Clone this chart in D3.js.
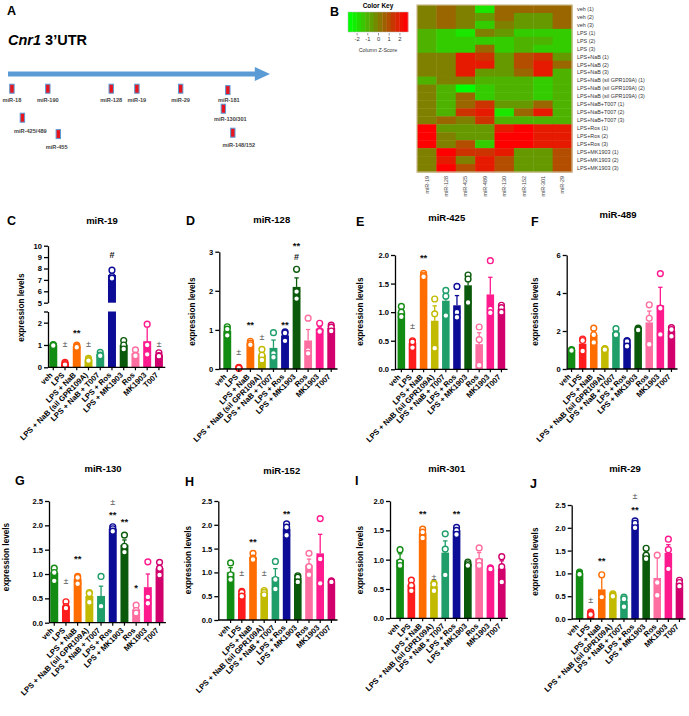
<!DOCTYPE html>
<html><head><meta charset="utf-8">
<script src="https://cdn.jsdelivr.net/npm/d3@7"></script>
<style>
body{margin:0;background:#fff;}
svg{display:block;font-family:"Liberation Sans",Arial,sans-serif;}
</style></head><body>
<svg id="fig" width="689" height="716"></svg>
<script>
// ---------------- DATA ----------------
const groups = ["veh","LPS","LPS + NaB","LPS + NaB (sil GPR109A)","LPS + NaB + T007","LPS + Ros","LPS + MK1903","Ros","MK1903","T007"];
const groupColors = ["#138c13","#ff1c1c","#ff6c00","#c2ba00","#1f9e6a","#0c0c96","#0b5a0b","#ff6ea0","#ff1a8e","#d1006c"];

// Panel A: miRNA binding sites along Cnr1 3'UTR (relative position 0-100, tier)
const utrSites = ["miR-18","miR-190","miR-128","miR-19","miR-29","miR-181","miR-130/301","miR-148/152","miR-425/489","miR-455"];
const utrSitePos = [1.5,15.2,39.4,49.2,65.9,83.9,82.2,85.8,5.5,19.2];
const utrSiteTier = [0,0,0,0,0,0.07,1.0,2.2,1.45,2.27];

// Panel B: heatmap (column Z-scores)
const hmCols = ["miR-19","miR-128","miR-425","miR-489","miR-130","miR-152","miR-301","miR-29"];
const hmRows = ["veh (1)","veh (2)","veh (3)","LPS (1)","LPS (2)","LPS (3)","LPS+NaB (1)","LPS+NaB (2)","LPS+NaB (3)",
 "LPS+NaB (sil GPR109A) (1)","LPS+NaB (sil GPR109A) (2)","LPS+NaB (sil GPR109A) (3)",
 "LPS+NaB+T007 (1)","LPS+NaB+T007 (2)","LPS+NaB+T007 (3)","LPS+Ros (1)","LPS+Ros (2)","LPS+Ros (3)",
 "LPS+MK1903 (1)","LPS+MK1903 (2)","LPS+MK1903 (3)"];
const hmZ = [
 [0,0.5,0,-2,0.5,0.5,0.5,0.5],
 [0,0.5,0,-0.5,0.5,-0.5,-0.5,0.5],
 [0,0.5,0,-1.5,0,-0.5,-0.5,0.5],
 [-1,-1.5,-2,0,-0.5,-1.5,-1.5,-1.5],
 [-1,-1.5,-1.5,-1.5,-1.5,-1,-1,-1.5],
 [-1,-1.5,-1.5,0.5,-1.5,-1,-1.5,-1.5],
 [0,0,2,1.5,-0.5,1,1.5,-0.5],
 [0,0,2,2,-0.5,1,2,0.5],
 [0,0,2,-0.5,-0.5,0.5,2,-1],
 [-1,0,0,-1,-1,-1,-1.5,-1],
 [0,-1,-2.5,-1.5,-1,-1,-1.5,-1],
 [0,-1,0.5,-1.5,-1,-1,-1.5,-1],
 [0,-1,0.5,1.5,-0.5,-0.5,0.5,-1],
 [0,-1,1.5,2,-2,0.5,2,-1],
 [0,0.5,0,1.5,-1,-1,-1,-1],
 [3,-0.5,-0.5,-0.5,2,3,2,2],
 [3,0,-0.5,-0.5,2.5,2.5,2,2],
 [3,0,1,-1.5,2.5,2.5,2,2],
 [0,3,1.5,1.5,2,-0.5,-0.5,1],
 [0,2,0,2,1,-0.5,-0.5,1],
 [0,2.5,1,2,1,-0.5,-0.5,1]
];
const keyTicks = [-2,-1,0,1,2];

// Panel C: miR-19
const miR19Mean = [1.0,0.17,0.95,0.35,0.58,7.43,1.0,0.62,1.17,0.56];
const miR19Sem  = [0.01,0.03,0.03,0.03,0.05,0.2,0.09,0.06,0.7,0.05];
const miR19Pts  = [[1.02,1.0,0.98],[0.22,0.17,0.12],[1.0,0.95,0.9],[0.4,0.35,0.3],[0.67,0.55,0.52],[7.85,7.3,7.15],[1.2,1.0,0.82],[0.78,0.55,0.52],[1.93,1.0,0.58],[0.65,0.52,0.5]];
const miR19Sig  = [[1,"±",1.05],[2,"**",1.66],[3,"±",1.05],[5,"#",9.2],[9,"±",1.05]];
const miR19TicksLow = [0,1,2];
const miR19TicksHigh = [5,6,7,8,9,10];

// Panel D: miR-128
const miR128Mean = [0.98,0.03,0.66,0.36,0.54,0.86,2.1,0.73,1.03,1.05];
const miR128Sem  = [0.07,0.01,0.03,0.08,0.2,0.07,0.23,0.28,0.06,0.04];
const miR128Pts  = [[1.08,1.02,0.86],[0.04,0.03,0.02],[0.71,0.66,0.62],[0.5,0.35,0.23],[0.93,0.4,0.3],[0.95,0.92,0.72],[2.55,1.98,1.8],[1.3,0.47,0.4],[1.17,0.98,0.96],[1.12,1.07,0.97]];
const miR128Sig  = [[1,"±",0.43],[2,"**",1.21],[3,"±",0.83],[5,"**",1.21],[6,"#",2.87],[6,"**",3.21]];
const miR128Ticks = [0,1,2,3];

// Panel E: miR-425
const miR425Mean = [1.0,0.46,1.65,0.85,1.2,1.12,1.47,0.44,1.31,1.06];
const miR425Sem  = [0.05,0.04,0.02,0.26,0.13,0.17,0.15,0.2,0.3,0.04];
const miR425Pts  = [[1.1,1.0,0.92],[0.5,0.48,0.38],[1.68,1.65,1.62],[1.23,0.97,0.37],[1.38,1.28,0.94],[1.45,1.0,0.91],[1.65,1.58,1.17],[0.74,0.52,0.07],[1.9,1.05,0.99],[1.12,1.08,1.0]];
const miR425Sig  = [[1,"±",0.76],[2,"**",2.0]];
const miR425Ticks = [0,0.5,1,1.5,2];

// Panel F: miR-489
const miR489Mean = [1.0,1.33,1.8,1.05,1.92,1.4,2.1,2.45,3.35,2.0];
const miR489Sem  = [0.02,0.2,0.22,0.03,0.1,0.1,0.03,0.6,0.95,0.14];
const miR489Pts  = [[1.02,1.0,0.97],[1.58,1.5,0.95],[2.15,1.8,1.4],[1.08,1.05,1.02],[2.12,1.85,1.8],[1.5,1.45,1.2],[2.15,2.1,2.05],[3.38,2.67,1.3],[5.02,3.2,1.82],[2.18,2.08,1.72]];
const miR489Sig  = [];
const miR489Ticks = [0,2,4,6];

// Panel G: miR-130
const miR130Mean = [1.03,0.34,0.9,0.55,0.55,1.93,1.6,0.27,0.73,1.12];
const miR130Sem  = [0.08,0.04,0.05,0.06,0.2,0.03,0.1,0.05,0.27,0.08];
const miR130Pts  = [[1.12,1.03,0.86],[0.43,0.33,0.3],[0.95,0.93,0.8],[0.62,0.6,0.42],[0.95,0.36,0.34],[1.97,1.93,1.88],[1.8,1.57,1.45],[0.36,0.25,0.2],[1.25,0.53,0.4],[1.24,1.12,0.98]];
const miR130Sig  = [[1,"±",0.86],[2,"**",1.36],[5,"**",2.28],[5,"±",2.49],[6,"**",2.12],[7,"*",0.77]];

// Panel H: miR-152
const miR152Mean = [1.0,0.55,1.32,0.57,0.9,1.92,0.88,1.15,1.4,0.81];
const miR152Sem  = [0.1,0.03,0.04,0.03,0.18,0.08,0.04,0.13,0.4,0.01];
const miR152Pts  = [[1.2,0.95,0.85],[0.6,0.58,0.5],[1.4,1.3,1.27],[0.62,0.58,0.53],[1.23,0.85,0.65],[2.02,1.95,1.78],[0.93,0.9,0.8],[1.4,1.12,0.95],[2.13,1.28,0.77],[0.82,0.81,0.8]];
const miR152Sig  = [[1,"±",0.99],[2,"**",1.69],[3,"±",0.99],[5,"**",2.28]];

// Panel I: miR-301
const miR301Mean = [1.0,0.57,1.45,0.55,1.12,1.5,0.93,1.02,0.85,0.85];
const miR301Sem  = [0.1,0.06,0.05,0.04,0.2,0.03,0.03,0.1,0.01,0.13];
const miR301Pts  = [[1.17,0.96,0.9],[0.65,0.56,0.47],[1.52,1.47,1.37],[0.6,0.58,0.47],[1.44,1.18,0.74],[1.55,1.5,1.43],[0.96,0.93,0.9],[1.2,0.97,0.9],[0.86,0.85,0.84],[1.05,0.88,0.62]];
const miR301Sig  = [[2,"**",1.82],[3,"±",0.71],[5,"**",1.82]];

// Panel J: miR-29
const miR29Mean = [1.0,0.12,0.65,0.52,0.4,2.08,1.42,0.9,1.45,0.79];
const miR29Sem  = [0.02,0.02,0.3,0.02,0.07,0.04,0.08,0.5,0.18,0.04];
const miR29Pts  = [[1.03,1.0,0.98],[0.15,0.12,0.1],[0.97,0.5,0.48],[0.55,0.52,0.5],[0.48,0.44,0.27],[2.15,2.1,2.0],[1.55,1.4,1.32],[1.4,0.8,0.52],[1.75,1.52,1.1],[0.85,0.8,0.72]];
const miR29Sig  = [[1,"±",0.42],[2,"**",1.33],[5,"**",2.46],[5,"±",2.7]];
const ticks25 = [0,0.5,1,1.5,2,2.5];
const ticks20 = [0,0.5,1,1.5,2];

// ---------------- DRAWING ----------------
const svg = d3.select("#fig");

// ---- Panel A ----
const A = svg.append("g");
A.append("text").attr("x",7).attr("y",15).attr("font-size",12.5).attr("font-weight","bold").text("A");
const tA = A.append("text").attr("x",8).attr("y",45).attr("font-size",14.5).attr("font-weight","bold");
tA.append("tspan").attr("font-style","italic").text("Cnr1");
tA.append("tspan").text(" 3\u2019UTR");
const xA = d3.scaleLinear().domain([0,100]).range([8,270]);
const yA = d3.scaleLinear().domain([0,1]).range([88.7,108.7]);
A.append("line").attr("x1",xA(0)).attr("x2",xA(95)).attr("y1",74).attr("y2",74)
  .attr("stroke","#5b9bd5").attr("stroke-width",5);
A.append("path").attr("d",`M${xA(94.2)},67 L${xA(100)},74 L${xA(94.2)},81 Z`).attr("fill","#5b9bd5");
const siteLabDx = [0,0,0,0,0,1,7,6,8,-1.6];
const siteLabDy = [13,13,13,13,13,12,12,14,15,14.7];
utrSites.forEach((s,i)=>{
  const cx = xA(utrSitePos[i]), cy = yA(utrSiteTier[i]);
  A.append("rect").attr("x",cx-2.2).attr("y",cy-4.5).attr("width",4.4).attr("height",9)
    .attr("fill","#e8141e").attr("stroke","#5b9bd5").attr("stroke-width",1);
  A.append("text").attr("x",cx+siteLabDx[i]).attr("y",cy+siteLabDy[i]).attr("text-anchor","middle")
    .attr("font-size",5.6).attr("font-weight","bold").attr("fill","#444").text(s);
});

// ---- Panel B ----
const B = svg.append("g");
B.append("text").attr("x",330).attr("y",16).attr("font-size",12.5).attr("font-weight","bold").text("B");
const zColor = d3.scaleLinear().domain([-2.5,0,2.5]).range(["#00ff00","#808000","#ff0000"]).clamp(true);
const xK = d3.scaleLinear().domain([-2.8,2.8]).range([348,408]);
const keySteps = d3.range(-2.8,2.8,0.4);
B.selectAll("rect.key").data(keySteps).join("rect").attr("class","key")
  .attr("x",d=>xK(d)).attr("width",d=>xK(d+0.4)-xK(d)+0.3).attr("y",12).attr("height",20)
  .attr("fill",d=>zColor(d+0.2));
B.append("rect").attr("x",xK(-2.8)).attr("y",12).attr("width",xK(2.8)-xK(-2.8)).attr("height",20)
  .attr("fill","none").attr("stroke","#bbb").attr("stroke-width",0.5);
B.append("text").attr("x",xK(0)).attr("y",8).attr("text-anchor","middle").attr("font-size",6.5).attr("font-weight","bold").text("Color Key");
const keyAxis = B.append("g").attr("transform","translate(0,33)")
  .call(d3.axisBottom(xK).tickValues(keyTicks).tickFormat(d=>String(d)).tickSize(2.5).tickSizeOuter(0));
keyAxis.select(".domain").remove();
keyAxis.selectAll("text").attr("font-size",5.8).attr("fill","#333").attr("y",4);
keyAxis.selectAll("line").attr("stroke","#555").attr("stroke-width",0.6);
B.append("text").attr("x",xK(0)).attr("y",52).attr("text-anchor","middle").attr("font-size",5.3).attr("fill","#333").text("Column Z-Score");

const xH = d3.scaleBand().domain(hmCols).range([417,572]);
const yH = d3.scaleBand().domain(hmRows).range([5,172]);
hmZ.forEach((row,r)=>{
  B.selectAll(null).data(row).join("rect")
    .attr("x",(d,c)=>xH(hmCols[c])).attr("y",yH(hmRows[r]))
    .attr("width",xH.bandwidth()+0.4).attr("height",yH.bandwidth()+0.4)
    .attr("fill",d=>zColor(d));
});
B.append("rect").attr("x",417).attr("y",5).attr("width",155).attr("height",167)
  .attr("fill","none").attr("stroke","#cbb98c").attr("stroke-width",1.2);
B.selectAll("text.rowlab").data(hmRows).join("text").attr("class","rowlab")
  .attr("x",577).attr("y",d=>yH(d)+yH.bandwidth()/2).attr("dy","0.35em")
  .attr("font-size",5.4).attr("fill","#333").text(d=>d);
B.selectAll("text.collab").data(hmCols).join("text").attr("class","collab")
  .attr("transform",d=>`translate(${xH(d)+xH.bandwidth()/2+2},176) rotate(-90)`)
  .attr("text-anchor","end").attr("font-size",5.4).attr("fill","#444").text(d=>d);

// ---- Bar panels ----
function drawBars(cfg){
  const g = svg.append("g");
  const x = d3.scaleBand().domain(groups).range(cfg.xr).paddingInner(0.32).paddingOuter(0.16);
  const y = d3.scaleLinear().domain(cfg.yd).range(cfg.yr);
  const bw = x.bandwidth();
  cfg.mean.forEach((m,i)=>{
    const segs = (cfg.brk && m > cfg.brk[0]) ? [[0,cfg.brk[0]],[cfg.brk[1],m]] : [[0,m]];
    segs.forEach(s=>{
      g.append("rect").attr("x",x(groups[i])).attr("width",bw)
        .attr("y",y(s[1])).attr("height",y(s[0])-y(s[1])).attr("fill",groupColors[i]);
    });
  });
  cfg.mean.forEach((m,i)=>{
    const cx = x(groups[i])+bw/2;
    g.append("line").attr("x1",cx).attr("x2",cx).attr("y1",y(m)).attr("y2",y(m+cfg.sem[i]))
      .attr("stroke",groupColors[i]).attr("stroke-width",1.3);
    g.append("line").attr("x1",cx-2.2).attr("x2",cx+2.2).attr("y1",y(m+cfg.sem[i])).attr("y2",y(m+cfg.sem[i]))
      .attr("stroke",groupColors[i]).attr("stroke-width",1.3);
  });
  cfg.pts.forEach((arr,i)=>{
    const cx = x(groups[i])+bw/2;
    g.selectAll(null).data(arr).join("circle")
      .attr("cx",cx).attr("cy",d=>y(d)).attr("r",2.9)
      .attr("fill","#fff").attr("stroke",groupColors[i]).attr("stroke-width",1.4);
  });
  const styleAxis = sel=>{
    sel.selectAll("path,line").attr("stroke","#000").attr("stroke-width",1.3);
    sel.selectAll("text").attr("font-size",7.6).attr("font-weight","bold").attr("fill","#000")
      .attr("font-family",'"Liberation Sans", Arial, sans-serif');
  };
  if(cfg.brk){
    const yLow = d3.scaleLinear().domain([0,cfg.brk[0]]).range([cfg.yr[0],cfg.yr[1]]);
    const yHigh = d3.scaleLinear().domain([cfg.brk[1],cfg.yd[cfg.yd.length-1]]).range([cfg.yr[2],cfg.yr[cfg.yr.length-1]]);
    const aL = g.append("g").attr("transform",`translate(${cfg.ax},0)`)
      .call(d3.axisLeft(yLow).tickValues(cfg.ticks.concat([cfg.brk[0]])).tickFormat(d=>d===cfg.brk[0]?"":d3.format("d")(d)).tickSize(4).tickSizeOuter(0).tickPadding(2));
    const aH = g.append("g").attr("transform",`translate(${cfg.ax},0)`)
      .call(d3.axisLeft(yHigh).tickValues(cfg.ticksHigh).tickFormat(d3.format("d")).tickSize(4).tickSizeOuter(0).tickPadding(2));
    styleAxis(aL); styleAxis(aH);
  } else {
    const a = g.append("g").attr("transform",`translate(${cfg.ax},0)`)
      .call(d3.axisLeft(y).tickValues(cfg.ticks).tickFormat(d3.format(cfg.fmt)).tickSize(4).tickSizeOuter(0).tickPadding(2));
    styleAxis(a);
  }
  const xa = g.append("g").attr("transform",`translate(0,${y(0)})`)
    .call(d3.axisBottom(x).tickSize(3).tickSizeOuter(0));
  xa.select(".domain").remove();
  xa.append("line").attr("x1",cfg.ax).attr("x2",cfg.xr[1]+0.5).attr("y1",0).attr("y2",0)
    .attr("stroke","#000").attr("stroke-width",1.3);
  xa.selectAll(".tick line").attr("stroke","#000").attr("stroke-width",1.2);
  xa.selectAll(".tick text").attr("x",-6).attr("y",3).attr("dy","0.35em")
    .attr("transform","rotate(-45)").style("text-anchor","end")
    .attr("font-size",7.7).attr("font-weight","bold").attr("fill","#000")
    .attr("font-family",'"Liberation Sans", Arial, sans-serif');
  cfg.sig.forEach(s=>{
    const cx = x(groups[s[0]])+bw/2;
    const isStar = s[1].indexOf("*")>=0;
    g.append("text").attr("x",cx).attr("y",y(s[2])).attr("dy",isStar?"0.62em":"0.35em")
      .attr("text-anchor","middle").attr("font-size",isStar?9.5:9)
      .attr("font-weight",s[1]==="±"?"normal":"bold")
      .attr("fill",s[1]==="±"?"#555":"#111").text(s[1]);
  });
  g.append("text").attr("x",cfg.letter[0]).attr("y",cfg.letter[1]).attr("font-size",12.5).attr("font-weight","bold").text(cfg.id);
  g.append("text").attr("x",cfg.title[0]).attr("y",cfg.title[1]).attr("text-anchor","middle")
    .attr("font-size",9.5).attr("font-weight","bold").text(cfg.name);
  g.append("text").attr("transform",`translate(${cfg.ylab[0]+3},${cfg.ylab[1]}) rotate(-90)`)
    .attr("text-anchor","middle").attr("font-size",8.2).attr("font-weight","bold").text("expression levels");
}

drawBars({id:"C",name:"miR-19",mean:miR19Mean,sem:miR19Sem,pts:miR19Pts,sig:miR19Sig,
  xr:[47.4,164.8],ax:48,yd:[0,2.5,5,10],yr:[367.3,311.5,302.7,245.7],brk:[2.5,5],
  ticks:miR19TicksLow,ticksHigh:miR19TicksHigh,letter:[7,225],title:[102,224],ylab:[20.5,307.7]});
drawBars({id:"D",name:"miR-128",mean:miR128Mean,sem:miR128Sem,pts:miR128Pts,sig:miR128Sig,
  xr:[221.5,337],ax:219.3,yd:[0,3],yr:[369,251.7],ticks:miR128Ticks,fmt:"d",
  letter:[186,225],title:[271.7,223],ylab:[192,311.7]});
drawBars({id:"E",name:"miR-425",mean:miR425Mean,sem:miR425Sem,pts:miR425Pts,sig:miR425Sig,
  xr:[395.8,507],ax:395,yd:[0,2],yr:[369.3,255],ticks:miR425Ticks,fmt:".1f",
  letter:[356,226],title:[446.7,221],ylab:[360,311.7]});
drawBars({id:"F",name:"miR-489",mean:miR489Mean,sem:miR489Sem,pts:miR489Pts,sig:miR489Sig,
  xr:[566,677],ax:566.7,yd:[0,6],yr:[369,255],ticks:miR489Ticks,fmt:"d",
  letter:[531,226],title:[618,218],ylab:[535,311.7]});
drawBars({id:"G",name:"miR-130",mean:miR130Mean,sem:miR130Sem,pts:miR130Pts,sig:miR130Sig,
  xr:[48.4,165.4],ax:49,yd:[0,2.5],yr:[622.7,501],ticks:ticks25,fmt:".1f",
  letter:[15,485],title:[103,472],ylab:[5.5,557]});
drawBars({id:"H",name:"miR-152",mean:miR152Mean,sem:miR152Sem,pts:miR152Pts,sig:miR152Sig,
  xr:[225,337],ax:218.3,yd:[0,2.5],yr:[620,501],ticks:ticks25,fmt:".1f",
  letter:[185,486],title:[281.7,474],ylab:[188,560]});
drawBars({id:"I",name:"miR-301",mean:miR301Mean,sem:miR301Sem,pts:miR301Pts,sig:miR301Sig,
  xr:[394.4,507.4],ax:390,yd:[0,2],yr:[618.3,501],ticks:ticks20,fmt:".1f",
  letter:[355,485],title:[446.7,472],ylab:[360,560]});
drawBars({id:"J",name:"miR-29",mean:miR29Mean,sem:miR29Sem,pts:miR29Pts,sig:miR29Sig,
  xr:[574,685],ax:571.7,yd:[0,2.5],yr:[619,505],ticks:ticks25,fmt:".1f",
  letter:[530,488],title:[625,472],ylab:[535,561.7]});
</script></body></html>
